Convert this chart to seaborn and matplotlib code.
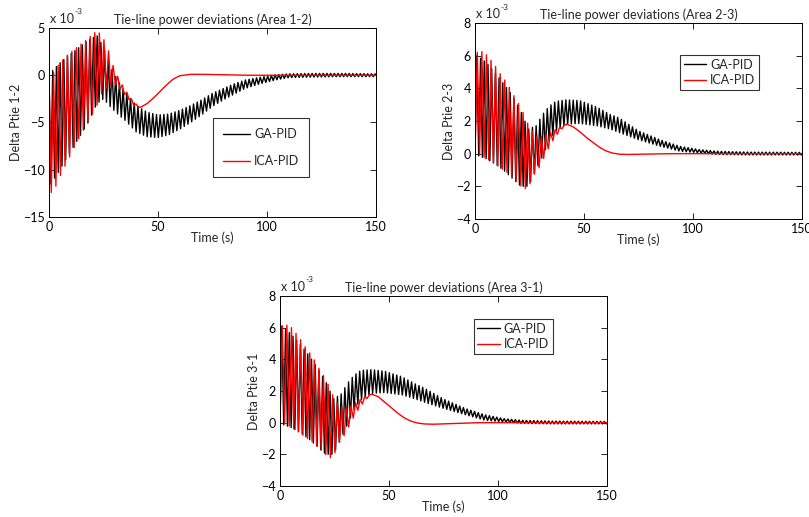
import numpy as np
import pandas as pd
import matplotlib
matplotlib.use("Agg")
import matplotlib.pyplot as plt
import seaborn as sns

# envelope knots (values in units of 1e-3)
# Area 1-2
t_ica12 = [0, 1.1, 2.2, 4.6, 8.7, 12.5, 17.9, 21.5, 24, 27, 30, 33, 36, 39, 42, 45, 48, 51, 54, 57, 60, 65, 70, 80, 90, 150]
hi_ica12 = [0, 0.0, 0.3, 1.2, 2.2, 2.9, 3.9, 4.6, 4.4, 2.8, 0.6, -0.8, -1.9, -2.9, -3.4, -3.0, -2.4, -1.7, -1.0, -0.4, -0.05, 0.1, 0.1, 0.05, 0.0, 0.0]
lo_ica12 = [0, -13.0, -12.3, -10.9, -9.0, -7.2, -4.9, -3.5, -2.0, -1.2, -0.9, -1.6, -2.4, -3.2, -3.4, -3.0, -2.4, -1.7, -1.0, -0.4, -0.05, 0.1, 0.1, 0.05, 0.0, 0.0]

t_ga12 = [0, 0.85, 5, 9, 13, 18, 22, 25, 28, 31, 35, 40, 45, 50, 55, 60, 65, 70, 75, 80, 85, 90, 97, 104, 110, 120, 135, 150]
hi_ga12 = [0, 0.3, 1.3, 2.1, 2.8, 3.7, 4.2, 3.0, 1.0, -0.3, -1.8, -3.2, -3.9, -4.2, -4.1, -3.7, -3.2, -2.6, -1.9, -1.4, -0.9, -0.5, -0.2, 0.05, 0.15, 0.2, 0.2, 0.15]
lo_ga12 = [0, -11.5, -10.0, -8.4, -6.9, -5.0, -3.0, -2.5, -3.3, -4.0, -4.8, -6.0, -6.5, -6.6, -6.3, -5.7, -5.0, -4.2, -3.3, -2.6, -2.0, -1.4, -0.9, -0.5, -0.25, -0.2, -0.15, -0.15]

# Area 2-3
t_ica23 = [0, 1.1, 2.6, 5.3, 8.7, 11.5, 14.8, 17.6, 21.2, 24, 27, 30, 33, 36, 39, 42, 45, 48, 51, 54, 57, 60, 63, 66, 70, 80, 90, 150]
hi_ica23 = [0, 6.5, 6.3, 6.05, 5.5, 4.9, 4.3, 3.6, 2.8, 1.9, 1.2, 1.0, 1.2, 1.4, 1.65, 1.8, 1.65, 1.35, 1.0, 0.7, 0.4, 0.17, 0.04, -0.03, -0.05, -0.02, 0.0, 0.0]
lo_ica23 = [0, 0.0, -0.1, -0.3, -0.6, -0.85, -1.15, -1.5, -2.0, -2.2, -1.3, -0.75, 0.15, 0.87, 1.4, 1.8, 1.65, 1.35, 1.0, 0.7, 0.4, 0.17, 0.04, -0.03, -0.05, -0.02, 0.0, 0.0]

t_ga23 = [0, 0.85, 5, 9, 13, 17, 21, 24.5, 28, 31, 34, 37, 42, 48, 56, 62, 66, 75, 85, 94, 103, 111, 125, 150]
hi_ga23 = [0, 6.0, 5.6, 5.0, 4.3, 3.6, 2.6, 1.5, 1.7, 2.4, 2.9, 3.2, 3.3, 3.25, 2.85, 2.4, 2.2, 1.4, 0.85, 0.45, 0.25, 0.15, 0.1, 0.08]
lo_ga23 = [0, -0.1, -0.3, -0.6, -1.0, -1.5, -2.0, -2.0, -1.0, -0.15, 0.75, 1.4, 1.8, 1.85, 1.7, 1.5, 1.3, 0.85, 0.45, 0.15, 0.05, -0.05, -0.08, -0.08]

# Area 3-1
t_ica31 = t_ica23
hi_ica31 = [0, 6.4, 6.2, 6.0, 5.4, 4.8, 4.2, 3.5, 2.7, 1.8, 1.1, 0.9, 1.1, 1.4, 1.65, 1.8, 1.65, 1.3, 0.95, 0.6, 0.3, 0.1, -0.02, -0.08, -0.1, -0.05, 0.0, 0.0]
lo_ica31 = [0, 0.0, -0.1, -0.3, -0.6, -0.9, -1.2, -1.55, -2.05, -2.3, -1.3, -0.7, 0.15, 0.85, 1.4, 1.8, 1.65, 1.3, 0.95, 0.6, 0.3, 0.1, -0.02, -0.08, -0.1, -0.05, 0.0, 0.0]

t_ga31 = t_ga23
hi_ga31 = [0, 6.1, 5.6, 5.0, 4.3, 3.5, 2.6, 1.5, 1.8, 2.5, 3.0, 3.3, 3.35, 3.25, 2.9, 2.45, 2.2, 1.5, 0.9, 0.5, 0.25, 0.15, 0.1, 0.08]
lo_ga31 = [0, -0.1, -0.3, -0.6, -1.0, -1.5, -2.0, -2.0, -1.0, -0.1, 0.8, 1.45, 1.85, 1.9, 1.75, 1.5, 1.3, 0.9, 0.5, 0.15, 0.05, -0.05, -0.08, -0.08]

# oscillation periods (s) of each controller's response
period_ica = 2.1
period_ga = 1.7


def zigzag(knots, hi, lo, period, first):
    # alternate between the read upper / lower envelopes every half period
    half = period / 2
    tk = np.arange(half, 150 + half, half)
    up = np.interp(tk, knots, hi)
    dn = np.interp(tk, knots, lo)
    k = np.arange(len(tk))
    use_hi = (k % 2 == 0) if first == "hi" else (k % 2 == 1)
    vals = np.where(use_hi, up, dn)
    return np.r_[0, tk], np.r_[0, vals]


W, H = 809, 517
panels = [
    dict(box=(49, 28, 376, 217), area="1-2", ylim=(-15, 5), yticks=[-15, -10, -5, 0, 5],
         ga=(t_ga12, hi_ga12, lo_ga12, "lo"), ica=(t_ica12, hi_ica12, lo_ica12, "lo"),
         leg=(0.5015, 0.524), lsp=1.2, bpad=0.8, hl=2.2),
    dict(box=(475, 23, 802, 219), area="2-3", ylim=(-4, 8), yticks=[-4, -2, 0, 2, 4, 6, 8],
         ga=(t_ga23, hi_ga23, lo_ga23, "hi"), ica=(t_ica23, hi_ica23, lo_ica23, "hi"),
         leg=(0.627, 0.837), lsp=0.3, bpad=0.3, hl=1.8),
    dict(box=(280, 296, 607, 486), area="3-1", ylim=(-4, 8), yticks=[-4, -2, 0, 2, 4, 6, 8],
         ga=(t_ga31, hi_ga31, lo_ga31, "hi"), ica=(t_ica31, hi_ica31, lo_ica31, "hi"),
         leg=(0.592, 0.879), lsp=0.3, bpad=0.3, hl=1.8),
]

sns.set_style("ticks")
plt.rcParams["font.family"] = ["Lato", "DejaVu Sans"]

fig = plt.figure(figsize=(W / 100, H / 100), dpi=100)

for p in panels:
    l, t, r, b = p["box"]
    ax = fig.add_axes([l / W, 1 - b / H, (r - l) / W, (b - t) / H])

    tg, vg = zigzag(p["ga"][0], p["ga"][1], p["ga"][2], period_ga, p["ga"][3])
    ti, vi = zigzag(p["ica"][0], p["ica"][1], p["ica"][2], period_ica, p["ica"][3])
    df_ga = pd.DataFrame({"t": tg, "v": vg})
    df_ica = pd.DataFrame({"t": ti, "v": vi})

    sns.lineplot(data=df_ga, x="t", y="v", color="black", lw=1.0, ax=ax,
                 estimator=None, sort=False, label="GA-PID")
    sns.lineplot(data=df_ica, x="t", y="v", color="#ff0000", lw=1.0, ax=ax,
                 estimator=None, sort=False, label="ICA-PID")

    ax.set_xlim(0, 150)
    ax.set_ylim(*p["ylim"])
    ax.set_xticks([0, 50, 100, 150])
    ax.set_yticks(p["yticks"])
    ax.tick_params(direction="in", top=True, right=True, length=4, width=0.6,
                   labelsize=9, pad=3, colors="black")
    for s in ax.spines.values():
        s.set_linewidth(0.7)
        s.set_color("black")

    ax.set_title(f"Tie-line power deviations (Area {p['area']})", fontsize=9, pad=3)
    ax.set_xlabel("Time (s)", fontsize=9, labelpad=-1)
    ax.set_ylabel(f"Delta Ptie {p['area']}", fontsize=9, labelpad=1)

    ax.annotate("x 10", xy=(0, 1), xycoords="axes fraction", xytext=(1, 2),
                textcoords="offset points", fontsize=9, va="bottom", ha="left")
    ax.annotate("-3", xy=(0, 1), xycoords="axes fraction", xytext=(18, 9),
                textcoords="offset points", fontsize=6, va="bottom", ha="left")

    leg = ax.legend(loc="upper left", bbox_to_anchor=p["leg"], borderaxespad=0,
                    frameon=True, fancybox=False, fontsize=9, handlelength=p["hl"],
                    handletextpad=0.3, labelspacing=p["lsp"], borderpad=p["bpad"])
    leg.get_frame().set_edgecolor("black")
    leg.get_frame().set_linewidth(0.8)

fig.savefig("out.png", dpi=100)
